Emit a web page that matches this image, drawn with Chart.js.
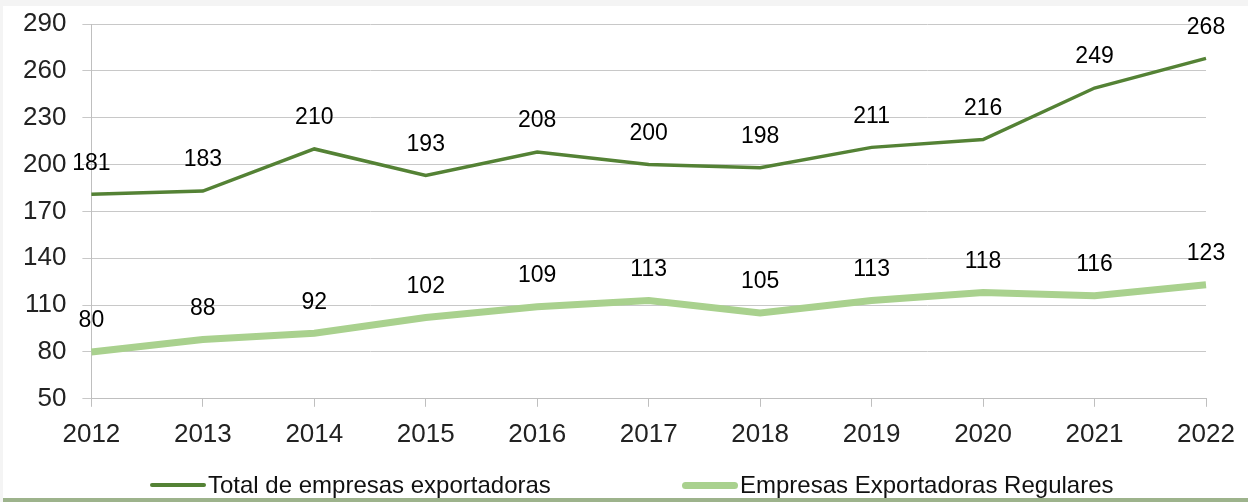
<!DOCTYPE html>
<html>
<head>
<meta charset="utf-8">
<script src="https://cdn.jsdelivr.net/npm/chart.js@4"></script>
<style>
  html, body { margin: 0; padding: 0; }
  body { width: 1248px; height: 502px; background: #f4f4f4; position: relative; overflow: hidden; font-family: "Liberation Sans", Arial, sans-serif; }
  #frame { position: absolute; left: 3px; top: 6px; right: 0; bottom: 0; background: #fff; border-bottom: 4px solid #9db38c; }
  #chart { position: absolute; left: 0; top: 0; }
  #legend { position: absolute; left: 0; top: 471px; width: 1248px; height: 28px; }
  .item { position: absolute; top: 0; height: 28px; line-height: 28px; font-size: 24px; color: #111; white-space: nowrap; }
  .item span.swatch { position: absolute; left: 0; top: 14px; border-radius: 4px; }
  .item span.txt { position: absolute; left: 58px; top: 0; }
</style>
</head>
<body>
<div id="frame"></div>
<canvas id="chart" width="1248" height="502"></canvas>
<div id="legend"></div>
<script>
var years = ["2012", "2013", "2014", "2015", "2016", "2017", "2018", "2019", "2020", "2021", "2022"];
var totalEmpresas = [181, 183, 210, 193, 208, 200, 198, 211, 216, 249, 268];
var regulares = [80, 88, 92, 102, 109, 113, 105, 113, 118, 116, 123];
var seriesNames = ["Total de empresas exportadoras", "Empresas Exportadoras Regulares"];

var darkGreen = "#548235";
var lightGreen = "#a9d18e";
var fontFam = "'Liberation Sans', Arial, sans-serif";

// value labels above each point
var valueLabels = {
  id: "valueLabels",
  afterDatasetsDraw: function(chart) {
    var ctx = chart.ctx;
    ctx.save();
    ctx.font = "23px " + fontFam;
    ctx.fillStyle = "#000";
    ctx.textAlign = "center";
    ctx.textBaseline = "middle";
    for (var d = 0; d < chart.data.datasets.length; d++) {
      var meta = chart.getDatasetMeta(d);
      var data = chart.data.datasets[d].data;
      for (var i = 0; i < meta.data.length; i++) {
        var p = meta.data[i];
        ctx.fillText(String(data[i]), p.x, p.y - 31);
      }
    }
    ctx.restore();
  }
};

var chart = new Chart(document.getElementById("chart"), {
  type: "line",
  data: {
    labels: years,
    datasets: [
      { label: seriesNames[0], data: totalEmpresas, borderColor: darkGreen, backgroundColor: darkGreen, borderWidth: 3.5, pointRadius: 0, tension: 0 },
      { label: seriesNames[1], data: regulares, borderColor: lightGreen, backgroundColor: lightGreen, borderWidth: 7, pointRadius: 0, tension: 0 }
    ]
  },
  options: {
    responsive: false,
    animation: false,
    layout: { padding: { left: 7, right: 42, top: 24, bottom: 40 } },
    plugins: {
      legend: { display: false },
      tooltip: { enabled: false }
    },
    scales: {
      x: {
        offset: false,
        grid: { drawOnChartArea: false, drawTicks: true, tickLength: 8, color: "#bfbfbf" },
        border: { color: "#bfbfbf" },
        ticks: { color: "#222", font: { size: 26, family: fontFam }, padding: 12, maxRotation: 0 }
      },
      y: {
        min: 50, max: 290,
        grid: { color: "#c8c8c8", tickLength: 9 },
        border: { color: "#bfbfbf" },
        ticks: { stepSize: 30, color: "#222", font: { size: 26, family: fontFam }, padding: 16 },
        afterFit: function(scale) {
          // tick padding should not push the plot down
          scale.paddingTop = 0;
          scale.paddingBottom = 0;
        }
      }
    }
  },
  plugins: [valueLabels]
});

// legend below the chart
var legendDiv = document.getElementById("legend");
var legendX = [150, 682];
for (var k = 0; k < chart.data.datasets.length; k++) {
  var ds = chart.data.datasets[k];
  var item = document.createElement("div");
  item.className = "item";
  item.style.left = legendX[k] + "px";
  var sw = document.createElement("span");
  sw.className = "swatch";
  sw.style.width = "56px";
  sw.style.height = Math.round(ds.borderWidth) + "px";
  sw.style.marginTop = (-Math.round(ds.borderWidth) / 2) + "px";
  sw.style.background = ds.borderColor;
  var t = document.createElement("span");
  t.className = "txt";
  t.textContent = ds.label;
  item.appendChild(sw);
  item.appendChild(t);
  legendDiv.appendChild(item);
}
</script>
</body>
</html>
